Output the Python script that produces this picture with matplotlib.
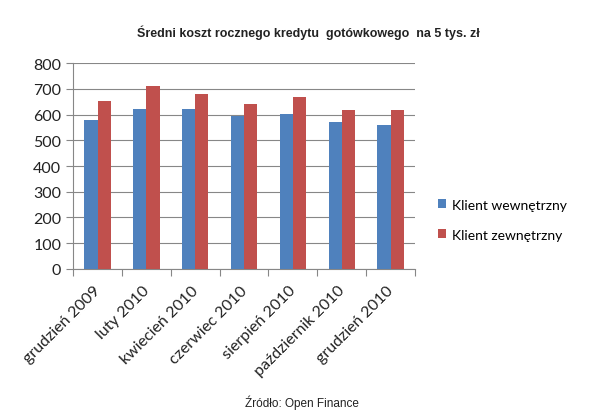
import numpy as np
import matplotlib.pyplot as plt
import matplotlib as mpl
from matplotlib.transforms import ScaledTranslation

mpl.rc('font', family='Lato')

miesiace = ['grudzień 2009', 'luty 2010', 'kwiecień 2010', 'czerwiec 2010',
            'sierpień 2010', 'październik 2010', 'grudzień 2010']
wewnetrzny = [578, 620, 620, 595, 602, 572, 560]
zewnetrzny = [651, 711, 681, 642, 669, 617, 617]

fig = plt.figure(figsize=(6.04, 4.14), dpi=100)
ax = fig.add_axes([0.121, 0.348, 0.566, 0.497])

x = np.arange(len(miesiace))
w = 0.27
ax.bar(x - w / 2, wewnetrzny, w, color='#4F81BD', label='Klient wewnętrzny', zorder=3)
ax.bar(x + w / 2, zewnetrzny, w, color='#C0504D', label='Klient zewnętrzny', zorder=3)

ax.set_xlim(-0.5, len(miesiace) - 0.5)
ax.set_ylim(0, 800)
ax.set_yticks(range(0, 801, 100))
ax.yaxis.grid(True, color='#878787', lw=0.8, zorder=0)
for s in ['top', 'right']:
    ax.spines[s].set_visible(False)
ax.spines['left'].set_color('#878787')
ax.spines['bottom'].set_color('#878787')

# kreski osi X między kategoriami
ax.set_xticks(np.arange(-0.5, len(miesiace)), minor=False)
ax.set_xticklabels([])
ax.set_xticks(x, minor=True)
ax.set_xticklabels(miesiace, minor=True, rotation=45, ha='right', rotation_mode='anchor',
                   fontsize=11.5, color='#222222')
ax.tick_params(axis='x', which='minor', length=0, pad=10)
ax.tick_params(axis='x', which='major', length=5, color='#878787')
ax.tick_params(axis='y', length=5, color='#878787', labelsize=11.5, labelcolor='#222222')
przesun = ScaledTranslation(-3 / 72, 0, fig.dpi_scale_trans)
for lab in ax.get_xticklabels(minor=True):
    lab.set_transform(lab.get_transform() + przesun)

ax.legend(loc='center left', bbox_to_anchor=(1.03, 0.24), frameon=False,
          fontsize=10, handlelength=0.6, handleheight=0.6, labelspacing=1.3,
          handletextpad=0.4)

fig.text(0.51, 0.92, 'Średni koszt rocznego kredytu  gotówkowego  na 5 tys. zł',
         ha='center', va='center', fontsize=9, fontweight='bold',
         family='Liberation Sans', color='#222222')
fig.text(0.5, 0.028, 'Źródło: Open Finance', ha='center', va='center',
         fontsize=8.5, family='Liberation Sans', color='#222222')

fig.savefig('out.png', dpi=100)
